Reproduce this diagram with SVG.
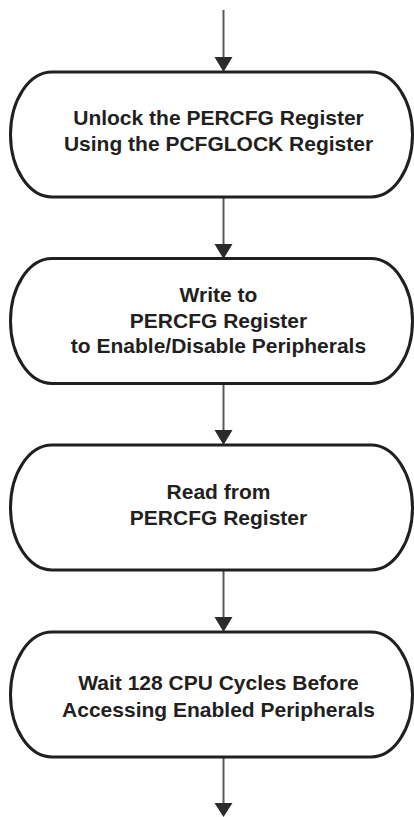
<svg xmlns="http://www.w3.org/2000/svg" width="414" height="817" viewBox="0 0 414 817">
<defs>
<style>
.node{fill:#fff;stroke:#231f20;stroke-width:3}
.lbl{font-family:"Liberation Sans",Arial,sans-serif;font-weight:bold;font-size:21px;fill:#231f20;text-anchor:middle}
.edge{stroke:#5a5a5a;stroke-width:2;fill:none}
.head{fill:#2b2b2b}
</style>
</defs>
<rect width="414" height="817" fill="#fff"/>
<g id="connectors">
<line class="edge" x1="223.5" y1="10" x2="223.5" y2="58"/>
<polygon class="head" points="214.5,57 232.5,57 223.5,72"/>
<line class="edge" x1="223.5" y1="197" x2="223.5" y2="245"/>
<polygon class="head" points="214.5,244 232.5,244 223.5,259"/>
<line class="edge" x1="223.5" y1="383.5" x2="223.5" y2="431"/>
<polygon class="head" points="214.5,430 232.5,430 223.5,445"/>
<line class="edge" x1="223.5" y1="570" x2="223.5" y2="618"/>
<polygon class="head" points="214.5,617 232.5,617 223.5,632"/>
<line class="edge" x1="223.5" y1="757" x2="223.5" y2="804"/>
<polygon class="head" points="214.5,803 232.5,803 223.5,817"/>
</g>
<g id="node1">
<path class="node" d="M52,72 H371 A41.5,62.5 0 0 1 371,197 H52 A41.5,62.5 0 0 1 52,72 Z"/>
<text class="lbl" x="218.5" y="125">Unlock the PERCFG Register</text>
<text class="lbl" x="218.5" y="150.5">Using the PCFGLOCK Register</text>
</g>
<g id="node2">
<path class="node" d="M52,258.5 H371 A41.5,62.5 0 0 1 371,383.5 H52 A41.5,62.5 0 0 1 52,258.5 Z"/>
<text class="lbl" x="218.5" y="302">Write to</text>
<text class="lbl" x="218.5" y="327.5">PERCFG Register</text>
<text class="lbl" x="218.5" y="353">to Enable/Disable Peripherals</text>
</g>
<g id="node3">
<path class="node" d="M52,445 H371 A41.5,62.5 0 0 1 371,570 H52 A41.5,62.5 0 0 1 52,445 Z"/>
<text class="lbl" x="218.5" y="498.5">Read from</text>
<text class="lbl" x="218.5" y="525">PERCFG Register</text>
</g>
<g id="node4">
<path class="node" d="M52,632 H371 A41.5,62.5 0 0 1 371,757 H52 A41.5,62.5 0 0 1 52,632 Z"/>
<text class="lbl" x="218.5" y="690">Wait 128 CPU Cycles Before</text>
<text class="lbl" x="218.5" y="716.5">Accessing Enabled Peripherals</text>
</g>
</svg>
